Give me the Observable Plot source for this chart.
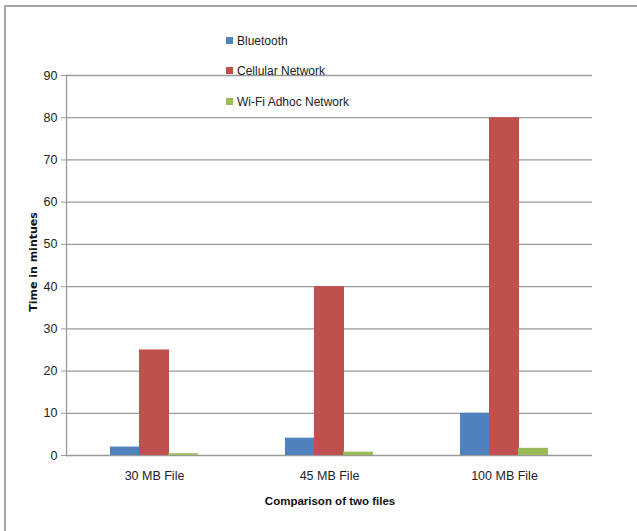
<!DOCTYPE html>
<html>
<head>
<meta charset="utf-8">
<script src="https://cdn.jsdelivr.net/npm/d3@7"></script>
<script src="https://cdn.jsdelivr.net/npm/@observablehq/plot@0.6"></script>
<style>
  html, body { margin: 0; padding: 0; background: #fff; }
  #wrap { position: relative; width: 637px; height: 531px; overflow: hidden; font-family: "Liberation Sans", Arial, sans-serif; }
  #frame { position: absolute; left: 4px; top: 5px; width: 700px; height: 600px; border-top: 2px solid #a6a6a6; border-left: 2px solid #a6a6a6; box-sizing: border-box; }
  #chart { position: absolute; left: 0; top: 0; }
  .legend { position: absolute; left: 226px; font-size: 12px; color: #222; line-height: 14px; }
  .legend span.sw { display: inline-block; width: 7px; height: 7px; margin-right: 4px; vertical-align: 1px; }
  #ylabel { position: absolute; left: 33px; top: 262px; transform: translate(-50%, -50%) rotate(-90deg); font-family: "DejaVu Sans", Verdana, sans-serif; font-weight: bold; font-size: 11px; color: #111; white-space: nowrap; }
  #xlabel { position: absolute; left: 330px; top: 501px; transform: translate(-50%, -50%); font-weight: bold; font-size: 11.5px; color: #111; white-space: nowrap; }
</style>
</head>
<body>
<div id="wrap">
  <div id="frame"></div>
  <div id="chart"></div>
  <div id="legend"></div>
  <div id="ylabel">Time in mintues</div>
  <div id="xlabel">Comparison of two files</div>
</div>
<script>
const files = ["30 MB File", "45 MB File", "100 MB File"];
const seriesNames = ["Bluetooth", "Cellular Network", "Wi-Fi Adhoc Network"];
const bluetooth = [2, 4.1, 10];
const cellular = [25, 40, 80];
const wifi = [0.4, 0.8, 1.7];
const yTicks = [0, 10, 20, 30, 40, 50, 60, 70, 80, 90];
const colors = ["#4F81BD", "#C0504D", "#9BBB59"];

const seriesValues = [bluetooth, cellular, wifi];
const barW = 29;
const insets = [[0, 2 * barW], [barW, barW], [2 * barW, 0]];

const barMarks = seriesValues.map((vals, i) =>
  Plot.barY(files.map((f, j) => ({file: f, value: vals[j]})), {
    x: "file", y: "value", fill: colors[i],
    insetLeft: insets[i][0], insetRight: insets[i][1]
  })
);

const chart = Plot.plot({
  width: 637,
  height: 531,
  marginLeft: 66,
  marginRight: 45,
  marginTop: 75,
  marginBottom: 76,
  style: {fontFamily: "'Liberation Sans', Arial, sans-serif", fontSize: "12.5px", color: "#222", background: "transparent"},
  x: {domain: files, paddingInner: 0.5, paddingOuter: 0.25},
  y: {domain: [0, 90]},
  marks: [
    Plot.ruleY(yTicks, {stroke: "#9a9a9a", strokeWidth: 1.3}),
    ...barMarks,
    Plot.axisY({ticks: yTicks, tickSize: 5, tickPadding: 4, stroke: "#9a9a9a", label: null, fill: "#222"}),
    Plot.axisX({tickSize: 0, tickPadding: 16, label: null, fill: "#222"}),
    Plot.frame({anchor: "left", stroke: "#9a9a9a", strokeWidth: 1.3})
  ]
});
document.getElementById("chart").appendChild(chart);

const legendTops = [34, 64, 95];
const lg = document.getElementById("legend");
seriesNames.forEach((name, i) => {
  const d = document.createElement("div");
  d.className = "legend";
  d.style.top = legendTops[i] + "px";
  d.innerHTML = `<span class="sw" style="background:${colors[i]}"></span>${name}`;
  lg.appendChild(d);
});
</script>
</body>
</html>
